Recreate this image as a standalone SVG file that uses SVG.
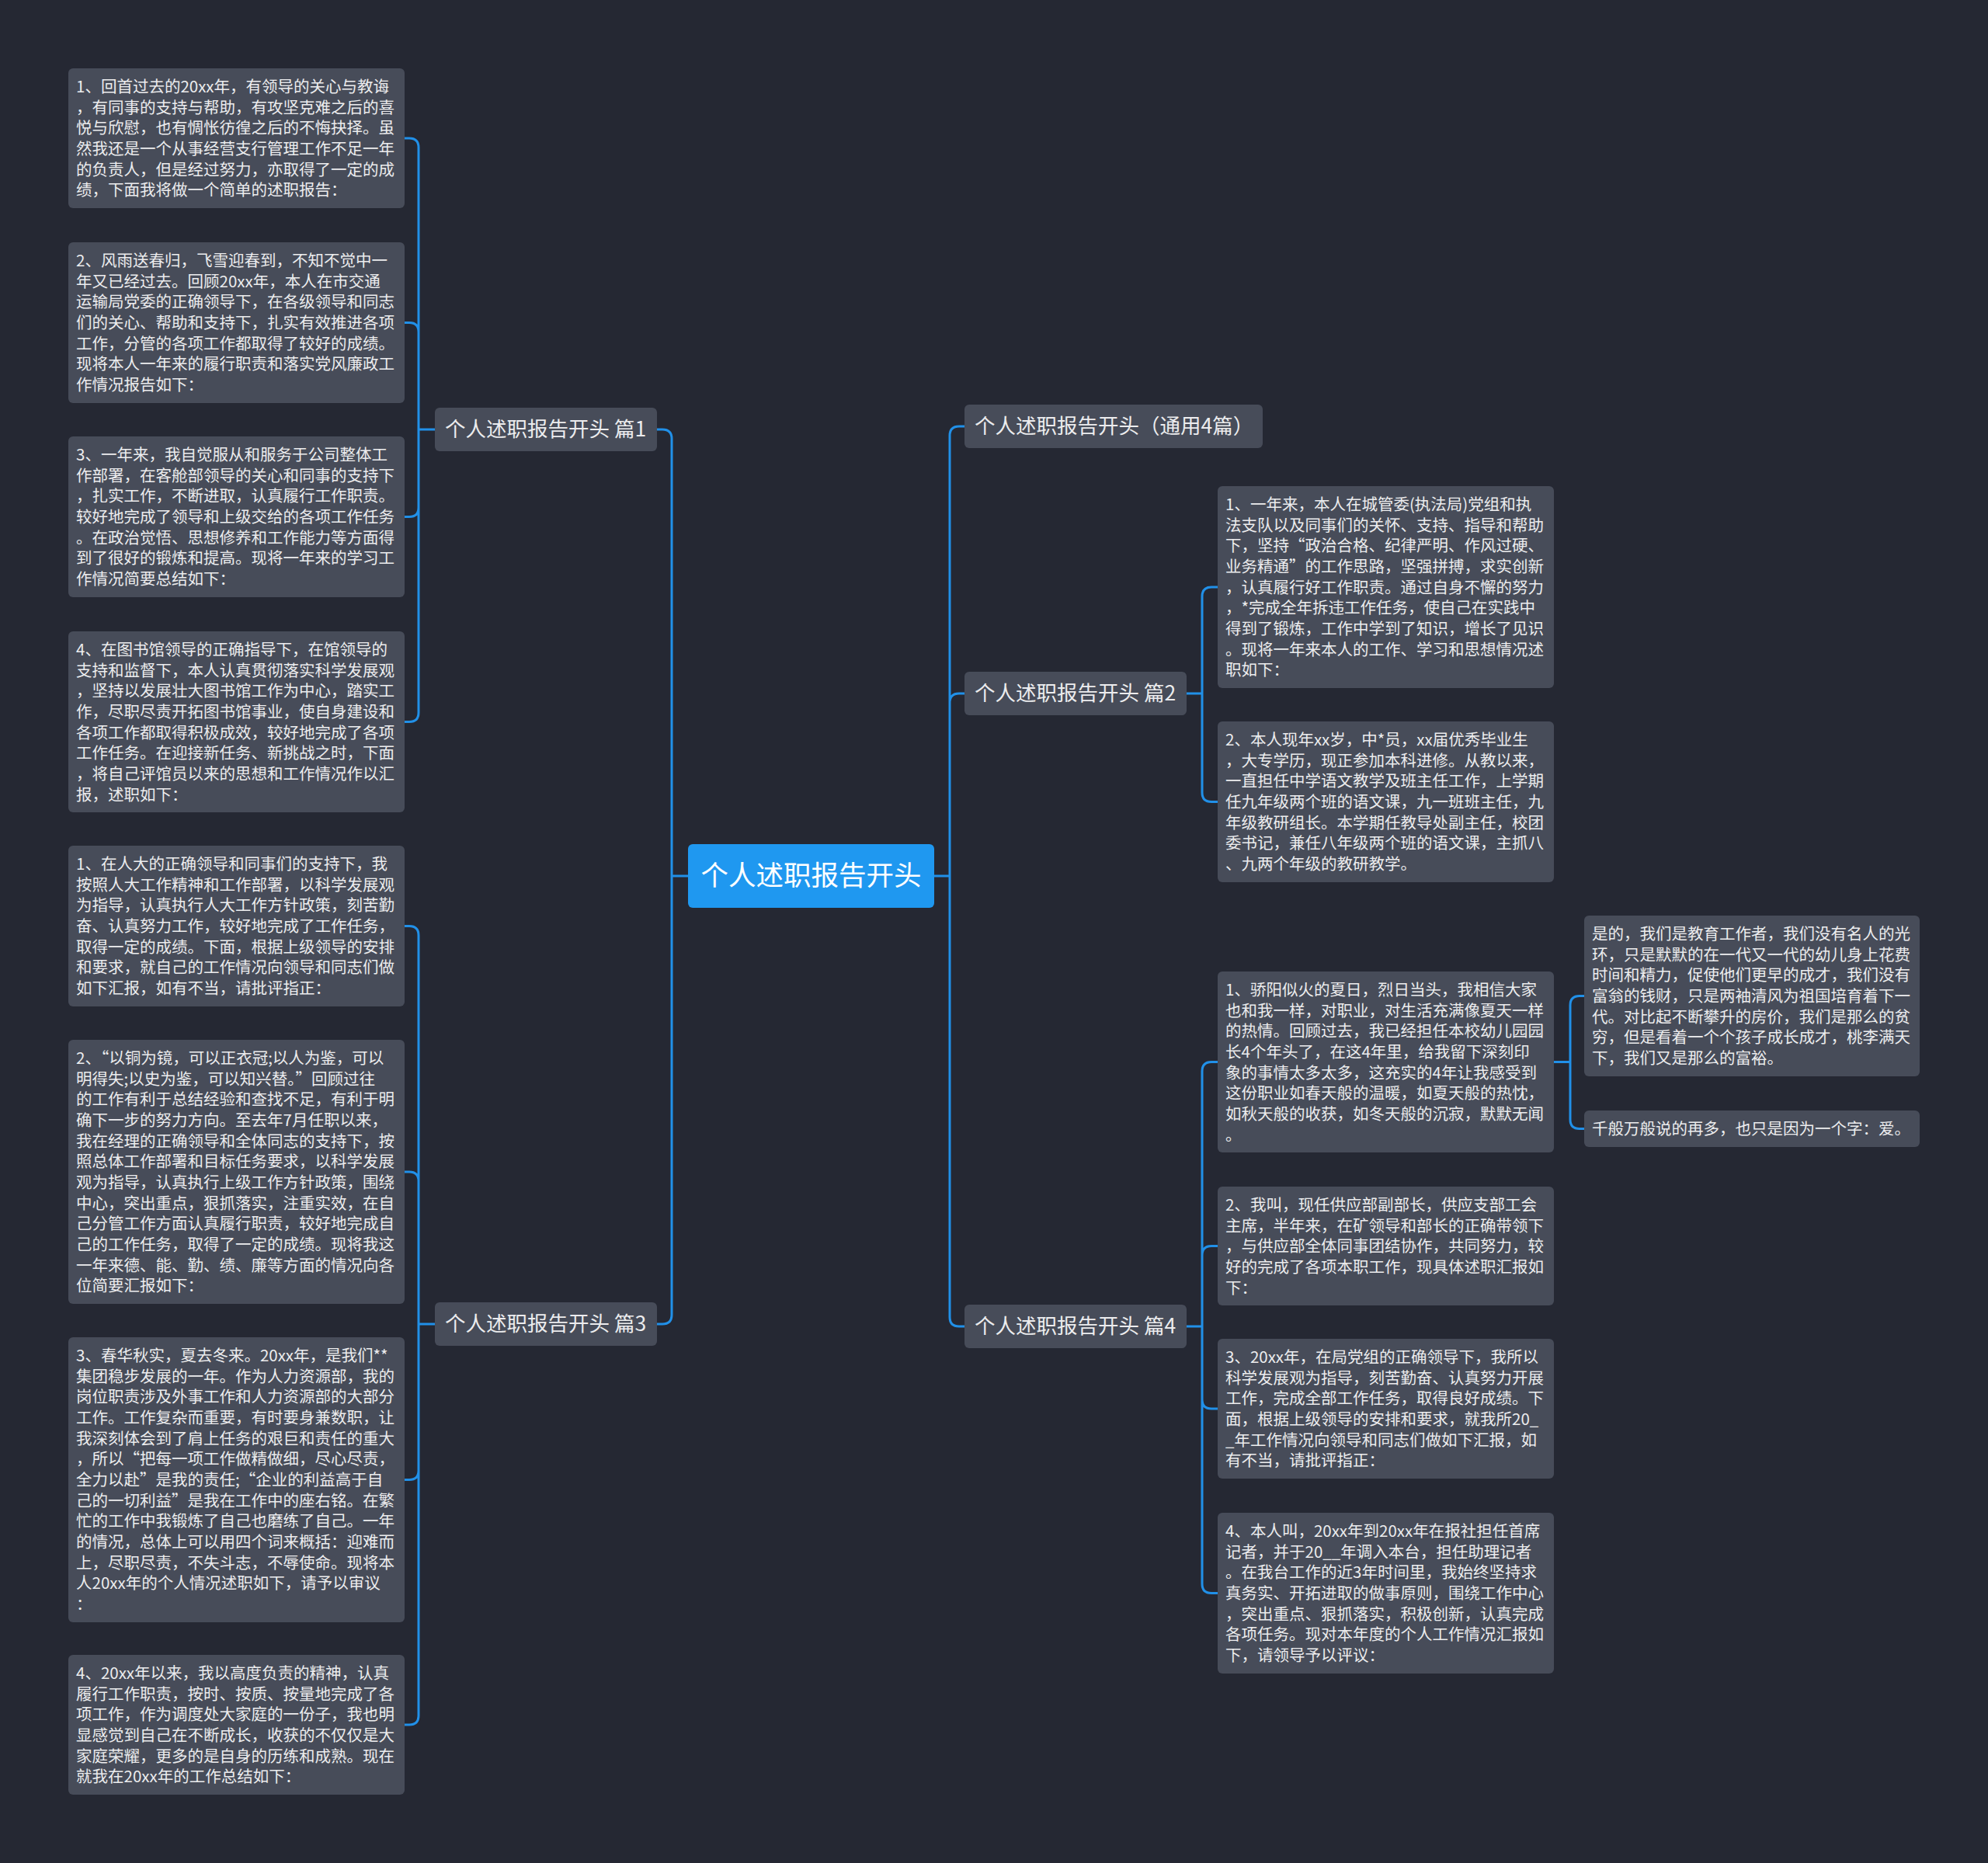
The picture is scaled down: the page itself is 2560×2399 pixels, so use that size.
<svg xmlns="http://www.w3.org/2000/svg" width="2560" height="2399" viewBox="0 0 2560 2399">
<style>
.bg{fill:#252833}
.leaf rect{fill:#474c59}
.leaf text{fill:#ececee;font-size:20.5px;font-family:"Noto Sans CJK SC","Noto Sans",sans-serif}
.branch rect{fill:#474c59}
.branch text{fill:#ececee;font-size:26.5px;font-family:"Noto Sans CJK SC","Noto Sans",sans-serif}
.root rect{fill:#1f98f0}
.root text{fill:#ffffff;font-size:35.5px;font-family:"Noto Sans CJK SC","Noto Sans",sans-serif}
.conn path{fill:none;stroke:#2190e8;stroke-width:3;stroke-linecap:round}
</style>
<rect class="bg" x="0" y="0" width="2560" height="2399"/>

<g id="connectors" class="conn">
<path d="M886,1128 H865 M865,1128 V565 Q865,553 853,553 H846 M865,1128 V1693 Q865,1705 853,1705 H846"/>
<path d="M1203,1128 H1223 M1223,1128 V561 Q1223,549 1235,549 H1242 M1223,1128 V905 Q1223,893 1235,893 H1242 M1223,1128 V1696 Q1223,1708 1235,1708 H1242"/>
<path d="M560,553 H539 M539,553 V190 Q539,178 527,178 H521 M539,553 V427.5 Q539,415.5 527,415.5 H521 M539,553 V653.5 Q539,665.5 527,665.5 H521 M539,553 V917.5 Q539,929.5 527,929.5 H521"/>
<path d="M560,1705 H539 M539,1705 V1204.5 Q539,1192.5 527,1192.5 H521 M539,1705 V1521 Q539,1509 527,1509 H521 M539,1705 V1893.5 Q539,1905.5 527,1905.5 H521 M539,1705 V2209 Q539,2221 527,2221 H521"/>
<path d="M1528,893 H1548 M1548,893 V768 Q1548,756 1560,756 H1568 M1548,893 V1020.5 Q1548,1032.5 1560,1032.5 H1568"/>
<path d="M1528,1708 H1548 M1548,1708 V1379.5 Q1548,1367.5 1560,1367.5 H1568 M1548,1708 V1616.5 Q1548,1604.5 1560,1604.5 H1568 M1548,1708 V1802 Q1548,1814 1560,1814 H1568 M1548,1708 V2039.5 Q1548,2051.5 1560,2051.5 H1568"/>
<path d="M2001,1367.5 H2022 M2022,1367.5 V1294.5 Q2022,1282.5 2034,1282.5 H2040 M2022,1367.5 V1441.5 Q2022,1453.5 2034,1453.5 H2040"/>
</g>

<g id="root" class="root">
<rect x="886" y="1087" width="317" height="82" rx="6"/>
<text x="1044.5" y="1140" text-anchor="middle">个人述职报告开头</text>
</g>

<g id="b1" class="branch">
<rect x="560" y="525" width="286" height="56" rx="6"/>
<text x="573" y="562">个人述职报告开头 篇1</text>
</g>
<g id="b3" class="branch">
<rect x="560" y="1677" width="286" height="56" rx="6"/>
<text x="573" y="1714">个人述职报告开头 篇3</text>
</g>
<g id="b0" class="branch">
<rect x="1242" y="521" width="384" height="56" rx="6"/>
<text x="1255" y="558">个人述职报告开头（通用4篇）</text>
</g>
<g id="b2" class="branch">
<rect x="1242" y="865" width="286" height="56" rx="6"/>
<text x="1255" y="902">个人述职报告开头 篇2</text>
</g>
<g id="b4" class="branch">
<rect x="1242" y="1680" width="286" height="56" rx="6"/>
<text x="1255" y="1717">个人述职报告开头 篇4</text>
</g>

<g id="l1-1" class="leaf">
<rect x="88" y="88" width="433" height="180" rx="6"/>
<text y="119"><tspan x="98">1、回首过去的20xx年，有领导的关心与教诲</tspan><tspan x="98" dy="26.67">，有同事的支持与帮助，有攻坚克难之后的喜</tspan><tspan x="98" dy="26.67">悦与欣慰，也有惆怅彷徨之后的不悔抉择。虽</tspan><tspan x="98" dy="26.67">然我还是一个从事经营支行管理工作不足一年</tspan><tspan x="98" dy="26.67">的负责人，但是经过努力，亦取得了一定的成</tspan><tspan x="98" dy="26.67">绩，下面我将做一个简单的述职报告：</tspan></text>
</g>
<g id="l1-2" class="leaf">
<rect x="88" y="312" width="433" height="207" rx="6"/>
<text y="343"><tspan x="98">2、风雨送春归，飞雪迎春到，不知不觉中一</tspan><tspan x="98" dy="26.67">年又已经过去。回顾20xx年，本人在市交通</tspan><tspan x="98" dy="26.67">运输局党委的正确领导下，在各级领导和同志</tspan><tspan x="98" dy="26.67">们的关心、帮助和支持下，扎实有效推进各项</tspan><tspan x="98" dy="26.67">工作，分管的各项工作都取得了较好的成绩。</tspan><tspan x="98" dy="26.67">现将本人一年来的履行职责和落实党风廉政工</tspan><tspan x="98" dy="26.67">作情况报告如下：</tspan></text>
</g>
<g id="l1-3" class="leaf">
<rect x="88" y="562" width="433" height="207" rx="6"/>
<text y="593"><tspan x="98">3、一年来，我自觉服从和服务于公司整体工</tspan><tspan x="98" dy="26.67">作部署，在客舱部领导的关心和同事的支持下</tspan><tspan x="98" dy="26.67">，扎实工作，不断进取，认真履行工作职责。</tspan><tspan x="98" dy="26.67">较好地完成了领导和上级交给的各项工作任务</tspan><tspan x="98" dy="26.67">。在政治觉悟、思想修养和工作能力等方面得</tspan><tspan x="98" dy="26.67">到了很好的锻炼和提高。现将一年来的学习工</tspan><tspan x="98" dy="26.67">作情况简要总结如下：</tspan></text>
</g>
<g id="l1-4" class="leaf">
<rect x="88" y="813" width="433" height="233" rx="6"/>
<text y="844"><tspan x="98">4、在图书馆领导的正确指导下，在馆领导的</tspan><tspan x="98" dy="26.67">支持和监督下，本人认真贯彻落实科学发展观</tspan><tspan x="98" dy="26.67">，坚持以发展壮大图书馆工作为中心，踏实工</tspan><tspan x="98" dy="26.67">作，尽职尽责开拓图书馆事业，使自身建设和</tspan><tspan x="98" dy="26.67">各项工作都取得积极成效，较好地完成了各项</tspan><tspan x="98" dy="26.67">工作任务。在迎接新任务、新挑战之时，下面</tspan><tspan x="98" dy="26.67">，将自己评馆员以来的思想和工作情况作以汇</tspan><tspan x="98" dy="26.67">报，述职如下：</tspan></text>
</g>

<g id="l3-1" class="leaf">
<rect x="88" y="1089" width="433" height="207" rx="6"/>
<text y="1120"><tspan x="98">1、在人大的正确领导和同事们的支持下，我</tspan><tspan x="98" dy="26.67">按照人大工作精神和工作部署，以科学发展观</tspan><tspan x="98" dy="26.67">为指导，认真执行人大工作方针政策，刻苦勤</tspan><tspan x="98" dy="26.67">奋、认真努力工作，较好地完成了工作任务，</tspan><tspan x="98" dy="26.67">取得一定的成绩。下面，根据上级领导的安排</tspan><tspan x="98" dy="26.67">和要求，就自己的工作情况向领导和同志们做</tspan><tspan x="98" dy="26.67">如下汇报，如有不当，请批评指正：</tspan></text>
</g>
<g id="l3-2" class="leaf">
<rect x="88" y="1339" width="433" height="340" rx="6"/>
<text y="1370"><tspan x="98">2、“以铜为镜，可以正衣冠;以人为鉴，可以</tspan><tspan x="98" dy="26.67">明得失;以史为鉴，可以知兴替。”回顾过往</tspan><tspan x="98" dy="26.67">的工作有利于总结经验和查找不足，有利于明</tspan><tspan x="98" dy="26.67">确下一步的努力方向。至去年7月任职以来，</tspan><tspan x="98" dy="26.67">我在经理的正确领导和全体同志的支持下，按</tspan><tspan x="98" dy="26.67">照总体工作部署和目标任务要求，以科学发展</tspan><tspan x="98" dy="26.67">观为指导，认真执行上级工作方针政策，围绕</tspan><tspan x="98" dy="26.67">中心，突出重点，狠抓落实，注重实效，在自</tspan><tspan x="98" dy="26.67">己分管工作方面认真履行职责，较好地完成自</tspan><tspan x="98" dy="26.67">己的工作任务，取得了一定的成绩。现将我这</tspan><tspan x="98" dy="26.67">一年来德、能、勤、绩、廉等方面的情况向各</tspan><tspan x="98" dy="26.67">位简要汇报如下：</tspan></text>
</g>
<g id="l3-3" class="leaf">
<rect x="88" y="1722" width="433" height="367" rx="6"/>
<text y="1753"><tspan x="98">3、春华秋实，夏去冬来。20xx年，是我们**</tspan><tspan x="98" dy="26.67">集团稳步发展的一年。作为人力资源部，我的</tspan><tspan x="98" dy="26.67">岗位职责涉及外事工作和人力资源部的大部分</tspan><tspan x="98" dy="26.67">工作。工作复杂而重要，有时要身兼数职，让</tspan><tspan x="98" dy="26.67">我深刻体会到了肩上任务的艰巨和责任的重大</tspan><tspan x="98" dy="26.67">，所以“把每一项工作做精做细，尽心尽责，</tspan><tspan x="98" dy="26.67">全力以赴”是我的责任;“企业的利益高于自</tspan><tspan x="98" dy="26.67">己的一切利益”是我在工作中的座右铭。在繁</tspan><tspan x="98" dy="26.67">忙的工作中我锻炼了自己也磨练了自己。一年</tspan><tspan x="98" dy="26.67">的情况，总体上可以用四个词来概括：迎难而</tspan><tspan x="98" dy="26.67">上，尽职尽责，不失斗志，不辱使命。现将本</tspan><tspan x="98" dy="26.67">人20xx年的个人情况述职如下，请予以审议</tspan><tspan x="98" dy="26.67">：</tspan></text>
</g>
<g id="l3-4" class="leaf">
<rect x="88" y="2131" width="433" height="180" rx="6"/>
<text y="2162"><tspan x="98">4、20xx年以来，我以高度负责的精神，认真</tspan><tspan x="98" dy="26.67">履行工作职责，按时、按质、按量地完成了各</tspan><tspan x="98" dy="26.67">项工作，作为调度处大家庭的一份子，我也明</tspan><tspan x="98" dy="26.67">显感觉到自己在不断成长，收获的不仅仅是大</tspan><tspan x="98" dy="26.67">家庭荣耀，更多的是自身的历练和成熟。现在</tspan><tspan x="98" dy="26.67">就我在20xx年的工作总结如下：</tspan></text>
</g>

<g id="l2-1" class="leaf">
<rect x="1568" y="626" width="433" height="260" rx="6"/>
<text y="657"><tspan x="1578">1、一年来，本人在城管委(执法局)党组和执</tspan><tspan x="1578" dy="26.67">法支队以及同事们的关怀、支持、指导和帮助</tspan><tspan x="1578" dy="26.67">下，坚持“政治合格、纪律严明、作风过硬、</tspan><tspan x="1578" dy="26.67">业务精通”的工作思路，坚强拼搏，求实创新</tspan><tspan x="1578" dy="26.67">，认真履行好工作职责。通过自身不懈的努力</tspan><tspan x="1578" dy="26.67">，*完成全年拆违工作任务，使自己在实践中</tspan><tspan x="1578" dy="26.67">得到了锻炼，工作中学到了知识，增长了见识</tspan><tspan x="1578" dy="26.67">。现将一年来本人的工作、学习和思想情况述</tspan><tspan x="1578" dy="26.67">职如下：</tspan></text>
</g>
<g id="l2-2" class="leaf">
<rect x="1568" y="929" width="433" height="207" rx="6"/>
<text y="960"><tspan x="1578">2、本人现年xx岁，中*员，xx届优秀毕业生</tspan><tspan x="1578" dy="26.67">，大专学历，现正参加本科进修。从教以来，</tspan><tspan x="1578" dy="26.67">一直担任中学语文教学及班主任工作，上学期</tspan><tspan x="1578" dy="26.67">任九年级两个班的语文课，九一班班主任，九</tspan><tspan x="1578" dy="26.67">年级教研组长。本学期任教导处副主任，校团</tspan><tspan x="1578" dy="26.67">委书记，兼任八年级两个班的语文课，主抓八</tspan><tspan x="1578" dy="26.67">、九两个年级的教研教学。</tspan></text>
</g>

<g id="l4-1" class="leaf">
<rect x="1568" y="1251" width="433" height="233" rx="6"/>
<text y="1282"><tspan x="1578">1、骄阳似火的夏日，烈日当头，我相信大家</tspan><tspan x="1578" dy="26.67">也和我一样，对职业，对生活充满像夏天一样</tspan><tspan x="1578" dy="26.67">的热情。回顾过去，我已经担任本校幼儿园园</tspan><tspan x="1578" dy="26.67">长4个年头了，在这4年里，给我留下深刻印</tspan><tspan x="1578" dy="26.67">象的事情太多太多，这充实的4年让我感受到</tspan><tspan x="1578" dy="26.67">这份职业如春天般的温暖，如夏天般的热忱，</tspan><tspan x="1578" dy="26.67">如秋天般的收获，如冬天般的沉寂，默默无闻</tspan><tspan x="1578" dy="26.67">。</tspan></text>
</g>
<g id="l4-1a" class="leaf">
<rect x="2040" y="1179" width="432" height="207" rx="6"/>
<text y="1210"><tspan x="2050">是的，我们是教育工作者，我们没有名人的光</tspan><tspan x="2050" dy="26.67">环，只是默默的在一代又一代的幼儿身上花费</tspan><tspan x="2050" dy="26.67">时间和精力，促使他们更早的成才，我们没有</tspan><tspan x="2050" dy="26.67">富翁的钱财，只是两袖清风为祖国培育着下一</tspan><tspan x="2050" dy="26.67">代。对比起不断攀升的房价，我们是那么的贫</tspan><tspan x="2050" dy="26.67">穷，但是看着一个个孩子成长成才，桃李满天</tspan><tspan x="2050" dy="26.67">下，我们又是那么的富裕。</tspan></text>
</g>
<g id="l4-1b" class="leaf">
<rect x="2040" y="1430" width="432" height="47" rx="6"/>
<text y="1461"><tspan x="2050">千般万般说的再多，也只是因为一个字：爱。</tspan></text>
</g>
<g id="l4-2" class="leaf">
<rect x="1568" y="1528" width="433" height="153" rx="6"/>
<text y="1559"><tspan x="1578">2、我叫，现任供应部副部长，供应支部工会</tspan><tspan x="1578" dy="26.67">主席，半年来，在矿领导和部长的正确带领下</tspan><tspan x="1578" dy="26.67">，与供应部全体同事团结协作，共同努力，较</tspan><tspan x="1578" dy="26.67">好的完成了各项本职工作，现具体述职汇报如</tspan><tspan x="1578" dy="26.67">下：</tspan></text>
</g>
<g id="l4-3" class="leaf">
<rect x="1568" y="1724" width="433" height="180" rx="6"/>
<text y="1755"><tspan x="1578">3、20xx年，在局党组的正确领导下，我所以</tspan><tspan x="1578" dy="26.67">科学发展观为指导，刻苦勤奋、认真努力开展</tspan><tspan x="1578" dy="26.67">工作，完成全部工作任务，取得良好成绩。下</tspan><tspan x="1578" dy="26.67">面，根据上级领导的安排和要求，就我所20_</tspan><tspan x="1578" dy="26.67">_年工作情况向领导和同志们做如下汇报，如</tspan><tspan x="1578" dy="26.67">有不当，请批评指正：</tspan></text>
</g>
<g id="l4-4" class="leaf">
<rect x="1568" y="1948" width="433" height="207" rx="6"/>
<text y="1979"><tspan x="1578">4、本人叫，20xx年到20xx年在报社担任首席</tspan><tspan x="1578" dy="26.67">记者，并于20__年调入本台，担任助理记者</tspan><tspan x="1578" dy="26.67">。在我台工作的近3年时间里，我始终坚持求</tspan><tspan x="1578" dy="26.67">真务实、开拓进取的做事原则，围绕工作中心</tspan><tspan x="1578" dy="26.67">，突出重点、狠抓落实，积极创新，认真完成</tspan><tspan x="1578" dy="26.67">各项任务。现对本年度的个人工作情况汇报如</tspan><tspan x="1578" dy="26.67">下，请领导予以评议：</tspan></text>
</g>
</svg>
